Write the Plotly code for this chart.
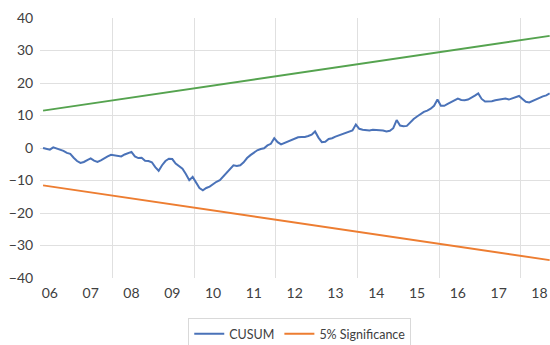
import plotly.graph_objects as go

# Monthly CUSUM statistic, Nov 2005 .. Apr 2018 (month index 0..149)
cusum = [
    0.0, -0.2, -0.5, 0.2, -0.1, -0.4, -0.9, -1.5, -1.8, -3.0,
    -4.0, -4.6, -4.3, -3.7, -3.2, -3.9, -4.3, -3.8, -3.1, -2.6,
    -2.1, -2.3, -2.6, -2.6, -2.0, -1.7, -1.2, -2.6, -3.1, -3.0,
    -3.9, -4.0, -4.4, -5.9, -7.0, -5.3, -4.0, -3.3, -3.4, -4.8,
    -5.7, -6.4, -8.0, -9.9, -8.9, -10.8, -12.3, -13.0, -12.3, -11.9,
    -11.0, -10.4, -9.9, -8.8, -7.8, -6.6, -5.3, -5.5, -5.3, -4.4,
    -3.1, -2.2, -1.4, -0.7, -0.3, -0.1, 0.8, 1.3, 3.0, 1.8,
    1.1, 1.5, 2.1, 2.5, 2.8, 3.3, 3.4, 3.4, 3.7, 4.1,
    5.1, 3.2, 1.8, 1.9, 2.8, 3.0, 3.5, 3.9, 4.2, 4.5,
    4.9, 5.4, 7.2, 5.9, 5.6, 5.4, 5.4, 5.6, 5.6, 5.6,
    5.4, 5.1, 5.3, 6.1, 8.6, 6.9, 6.7, 6.8, 7.9, 8.9,
    9.7, 10.5, 11.1, 11.5, 12.1, 13.0, 14.9, 13.0, 13.0, 13.6,
    14.2, 14.8, 15.2, 14.8, 14.7, 14.9, 15.4, 16.1, 16.8, 15.1,
    14.3, 14.3, 14.4, 14.7, 14.8, 15.0, 15.2, 14.9, 15.3, 15.8,
    16.0, 15.1, 14.2, 14.0, 14.5, 15.1, 15.5, 15.9, 16.2, 16.8,
]
months = list(range(len(cusum)))

# 5% significance bounds (straight lines between first and last month)
bound_months = [0, 149]
upper_bound = [11.5, 34.5]
lower_bound = [-11.5, -34.5]

# Year labels placed on January of each year
year_ticks = [2, 14, 26, 38, 50, 62, 74, 86, 98, 110, 122, 134, 146]
year_labels = ["06", "07", "08", "09", "10", "11", "12", "13", "14", "15", "16", "17", "18"]

y_ticks = [40, 30, 20, 10, 0, -10, -20, -30, -40]

BLUE = "#4A72B8"
ORANGE = "#ED7D31"
GREEN = "#55A34F"
GRID = "#E0E0E0"
TEXT = "#404040"
FONT = "Lato, 'Open Sans', sans-serif"

fig = go.Figure()
fig.add_trace(go.Scatter(
    x=months, y=cusum, mode="lines", name="CUSUM",
    line=dict(color=BLUE, width=2),
))
fig.add_trace(go.Scatter(
    x=bound_months, y=lower_bound, mode="lines", name="5% Significance",
    line=dict(color=ORANGE, width=2),
))
fig.add_trace(go.Scatter(
    x=bound_months, y=upper_bound, mode="lines", name="5% Significance (upper)",
    line=dict(color=GREEN, width=2), showlegend=False,
))

fig.update_layout(
    width=550, height=345,
    margin=dict(l=40, r=0, t=18, b=67),
    paper_bgcolor="white", plot_bgcolor="white",
    font=dict(family=FONT, color=TEXT),
    showlegend=True,
    legend=dict(
        orientation="h", xref="container", yref="container",
        x=0.545, xanchor="center", y=0.078, yanchor="top",
        bordercolor="#D9D9D9", borderwidth=1,
        font=dict(size=12.5, color=TEXT, family=FONT),
        traceorder="normal",
    ),
)
fig.update_xaxes(
    range=[-0.9, 149.1],
    tickmode="array", tickvals=year_ticks, ticktext=year_labels,
    tickfont=dict(size=14, color=TEXT),
    ticks="outside", ticklen=2, tickcolor="rgba(0,0,0,0)",
    showgrid=False, zeroline=False, showline=False,
    minor=dict(tickmode="linear", tick0=20.5, dtick=24, showgrid=True,
               gridcolor=GRID, gridwidth=1, ticks=""),
)
fig.update_yaxes(
    range=[-40, 40],
    tickmode="array", tickvals=y_ticks,
    tickfont=dict(size=14, color=TEXT),
    ticks="outside", ticklen=3, tickcolor="rgba(0,0,0,0)",
    showgrid=True, gridcolor=GRID, gridwidth=1,
    zeroline=False, showline=False,
)

fig.write_html("out.html")
